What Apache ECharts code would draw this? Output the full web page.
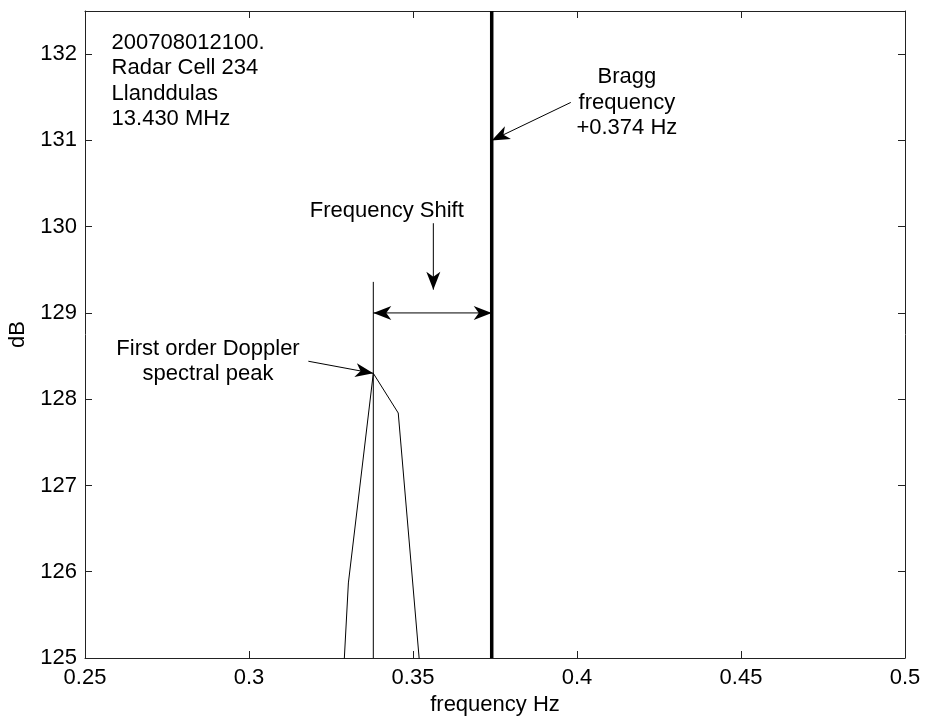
<!DOCTYPE html>
<html>
<head>
<meta charset="utf-8">
<script src="https://cdn.jsdelivr.net/npm/echarts@6/dist/echarts.min.js"></script>
<style>
html, body { margin: 0; padding: 0; background: #fff; }
#chart { width: 925px; height: 716px; }
</style>
</head>
<body>
<div id="chart"></div>
<script>
// 频谱数据 (frequency Hz / dB)
var freq = [0.3227, 0.3303, 0.3379, 0.3455, 0.3531]
var dB = [120.5, 125.87, 128.3, 127.84, 124.45]
// Bragg 频率线
var braggFreq = 0.374
// 一阶多普勒峰值竖线
var peakFreq = 0.3379
var peakTop = 129.36
// 刻度
var xTicks = [0.25, 0.3, 0.35, 0.4, 0.45, 0.5]
var yTicks = [125, 126, 127, 128, 129, 130, 131, 132]
// 箭头 [x0, y0, x1, y1, 双向]
var arrows = [
  [0.3981, 131.44, 0.374, 131.0, false],
  [0.3562, 130.04, 0.3562, 129.27, false],
  [0.3379, 129.0, 0.374, 129.0, true],
  [0.3181, 128.44, 0.3379, 128.3, false],
]
// 注释文字 [x, y, 文字, 对齐]
var notes = [
  [0.2581, 131.69, "200708012100.\nRadar Cell 234\nLlanddulas\n13.430 MHz", "left"],
  [0.4152, 131.44, "Bragg\nfrequency\n+0.374 Hz", "center"],
  [0.342, 130.18, "Frequency Shift", "center"],
  [0.2875, 128.44, "First order Doppler\nspectral peak", "center"],
]

var font = "'Liberation Sans', Arial, sans-serif"
var fontSize = 22
var black = "#000"

var myChart = echarts.init(document.getElementById("chart"))

// 边框轴（上/右）只画刻度
function boxAxis(pos, min, max, ticks) {
  return {
    type: "value",
    position: pos,
    min: min,
    max: max,
    axisLine: { show: true, onZero: false, lineStyle: { color: "#222", width: 1 } },
    axisTick: { show: true, inside: true, length: 7, customValues: ticks, lineStyle: { color: "#222" } },
    axisLabel: { show: false },
    splitLine: { show: false },
  }
}

var option = {
  animation: false,
  backgroundColor: "#fff",
  grid: { left: 85, right: 20, top: 11, bottom: 58, containLabel: false, outerBoundsMode: "none" },
  xAxis: [
    {
      type: "value",
      position: "bottom",
      min: 0.25,
      max: 0.5,
      name: "frequency Hz",
      nameLocation: "middle",
      nameGap: 34,
      nameTextStyle: { color: black, fontSize: fontSize, fontFamily: font },
      axisLine: { show: true, onZero: false, lineStyle: { color: "#222", width: 1 } },
      axisTick: { show: true, inside: true, length: 7, customValues: xTicks, lineStyle: { color: "#222" } },
      axisLabel: {
        customValues: xTicks,
        margin: 9,
        color: black,
        fontSize: fontSize,
        fontFamily: font,
        formatter: function (v) { return String(+v.toFixed(2)) },
      },
      splitLine: { show: false },
    },
    boxAxis("top", 0.25, 0.5, xTicks),
  ],
  yAxis: [
    {
      type: "value",
      position: "left",
      min: 125,
      max: 132.5,
      name: "dB",
      nameLocation: "middle",
      nameGap: 47,
      nameRotate: 90,
      nameTextStyle: { color: black, fontSize: fontSize, fontFamily: font },
      axisLine: { show: true, onZero: false, lineStyle: { color: "#222", width: 1 } },
      axisTick: { show: true, inside: true, length: 7, customValues: yTicks, lineStyle: { color: "#222" } },
      axisLabel: { customValues: yTicks, margin: 8, color: black, fontSize: fontSize, fontFamily: font },
      splitLine: { show: false },
    },
    boxAxis("right", 125, 132.5, yTicks),
  ],
  series: [
    {
      name: "spectrum",
      type: "line",
      data: freq.map(function (f, i) { return [f, dB[i]] }),
      symbol: "none",
      clip: true,
      lineStyle: { color: black, width: 1 },
    },
    {
      name: "peak",
      type: "line",
      data: [[peakFreq, 125], [peakFreq, peakTop]],
      symbol: "none",
      lineStyle: { color: black, width: 1 },
    },
    {
      name: "bragg",
      type: "line",
      data: [[braggFreq, 125], [braggFreq, 132.5]],
      symbol: "none",
      lineStyle: { color: black, width: 3.5 },
    },
  ],
}
myChart.setOption(option)

function toPx(x, y) {
  return myChart.convertToPixel({ xAxisIndex: 0, yAxisIndex: 0 }, [x, y])
}

// 箭头头部（带凹口）
function arrowHead(tip, from) {
  var dx = tip[0] - from[0]
  var dy = tip[1] - from[1]
  var len = Math.sqrt(dx * dx + dy * dy)
  var ux = dx / len
  var uy = dy / len
  var L = 18
  var W = 7
  var bx = tip[0] - ux * L
  var by = tip[1] - uy * L
  var nx = tip[0] - ux * L * 0.72
  var ny = tip[1] - uy * L * 0.72
  return {
    type: "polygon",
    shape: {
      points: [
        tip,
        [bx - uy * W, by + ux * W],
        [nx, ny],
        [bx + uy * W, by - ux * W],
      ],
    },
    style: { fill: black },
    z: 10,
  }
}

var graphics = []
arrows.forEach(function (a) {
  var p0 = toPx(a[0], a[1])
  var p1 = toPx(a[2], a[3])
  graphics.push({
    type: "line",
    shape: { x1: p0[0], y1: p0[1], x2: p1[0], y2: p1[1] },
    style: { stroke: black, lineWidth: 1 },
    z: 10,
  })
  graphics.push(arrowHead(p1, p0))
  if (a[4]) graphics.push(arrowHead(p0, p1))
})

// 注释文字 按数据坐标定位
notes.forEach(function (n) {
  var p = toPx(n[0], n[1])
  graphics.push({
    type: "text",
    x: p[0],
    y: p[1],
    style: {
      text: n[2],
      align: n[3],
      verticalAlign: "middle",
      fill: black,
      fontSize: fontSize,
      fontFamily: font,
      lineHeight: 25.5,
    },
    z: 10,
  })
})
myChart.setOption({ graphic: graphics })
</script>
</body>
</html>
